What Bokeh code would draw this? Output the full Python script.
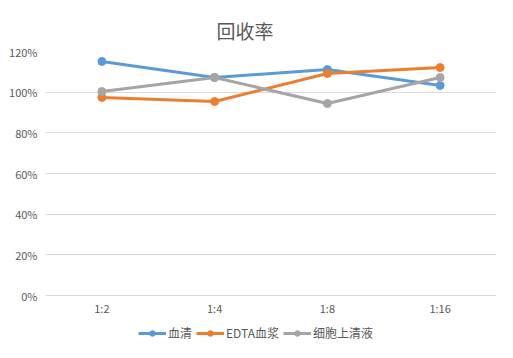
from bokeh.plotting import figure
from bokeh.models import (ColumnDataSource, NumeralTickFormatter, FixedTicker, Legend, LegendItem,
                          Range1d, FactorRange)
from bokeh.embed import file_html
from bokeh.resources import INLINE

categories = ["1:2", "1:4", "1:8", "1:16"]
serum = [1.151, 1.072, 1.111, 1.033]
edta_plasma = [0.974, 0.954, 1.092, 1.121]
supernatant = [1.003, 1.072, 0.944, 1.072]
series_names = ["血清", "EDTA血浆", "细胞上清液"]
series_colors = ["#5B9BD5", "#ED7D31", "#A5A5A5"]
y_ticks = [0, 0.2, 0.4, 0.6, 0.8, 1.0, 1.2]

FONT = "Noto Sans CJK SC"
TXT = "#595959"

# frame spans 291 px; 0..1.2 occupies the top 244 px, legend area below it
p = figure(width=497, height=342, x_range=FactorRange(*categories, range_padding=0),
           y_range=Range1d(-0.2311, 1.2), output_backend="svg", toolbar_location=None,
           min_border_left=45, min_border_right=1, min_border_top=51, min_border_bottom=0)
p.outline_line_color = None
p.background_fill_color = "white"
p.border_fill_color = "white"

p.title.text = "回收率"
p.title.text_font = FONT
p.title.text_font_size = "19px"
p.title.text_font_style = "normal"
p.title.text_color = TXT
p.title.align = "left"
p.title.offset = 171
p.title.standoff = 15

p.yaxis.ticker = FixedTicker(ticks=y_ticks)
p.yaxis.formatter = NumeralTickFormatter(format="0%")
p.xaxis.fixed_location = 0
for ax in (p.xaxis[0], p.yaxis[0]):
    ax.axis_line_color = None
    ax.major_tick_line_color = None
    ax.minor_tick_line_color = None
    ax.major_label_text_color = TXT
    ax.major_label_text_font = FONT
    ax.major_label_text_font_size = "11px"
p.yaxis.major_label_standoff = 2
p.xaxis.major_label_standoff = -2
p.xgrid.grid_line_color = None
p.ygrid.grid_line_color = "#D9D9D9"
p.ygrid.grid_line_width = 1

items = []
for name, vals, col in zip(series_names, [serum, edta_plasma, supernatant], series_colors):
    src = ColumnDataSource(dict(x=categories, y=vals))
    l = p.line("x", "y", source=src, line_color=col, line_width=3)
    s = p.scatter("x", "y", source=src, size=8, fill_color=col, line_color=col)
    items.append(LegendItem(label=name, renderers=[l, s]))

legend = Legend(items=items, orientation="horizontal", location=(93, 1),
                label_text_font=FONT, label_text_font_size="12px", label_text_color=TXT,
                glyph_width=28, glyph_height=14, label_height=14, label_standoff=2,
                spacing=4, padding=0, margin=0, border_line_color=None,
                background_fill_alpha=0)
p.add_layout(legend, "center")

open("out.html", "w").write(file_html(p, INLINE))
